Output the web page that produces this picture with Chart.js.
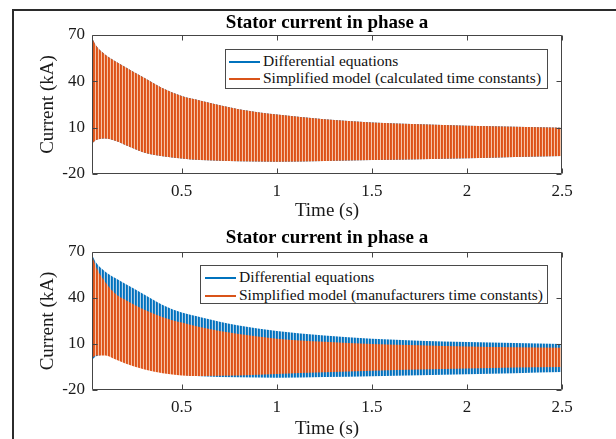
<!DOCTYPE html>
<html lang="en">
<head>
  <meta charset="UTF-8" />
  <title>Stator current in phase a</title>
  <script src="https://cdn.jsdelivr.net/npm/chart.js"></script>
  <style>
    body {
      margin: 0;
      background: #fff;
      font-family: 'Liberation Serif', 'Times New Roman', serif;
    }
    #fig {
      position: relative;
      width: 616px;
      height: 439px;
      overflow: hidden;
    }
    /* figure frame, cut off on the right and bottom like the picture */
    .frame {
      position: absolute;
      left: 12px;
      top: 9px;
      width: 640px;
      height: 460px;
      border: 2px solid #2b2b2b;
      box-sizing: border-box;
    }
    canvas {
      position: absolute;
      left: 0;
    }
    .legend {
      position: absolute;
      background: #fff;
      border: 1px solid #4a4a4a;
      box-sizing: border-box;
      font-size: 15.5px;
      color: #111;
    }
    .legend .row {
      position: absolute;
      left: 3px;
      height: 18px;
      line-height: 18px;
      white-space: nowrap;
    }
    .legend .swatch {
      display: inline-block;
      width: 31px;
      height: 2px;
      vertical-align: middle;
      margin-right: 3px;
    }
  </style>
</head>
<body>
<div id="fig">
  <div class="frame"></div>
  <canvas id="c1" width="616" height="226" style="top:0"></canvas>
  <canvas id="c2" width="616" height="213" style="top:226px"></canvas>

  <div class="legend" style="left:225px; top:49px; width:323px; height:40px;">
    <div class="row" style="top:2px;"><span class="swatch" style="background:#0072BD"></span>Differential equations</div>
    <div class="row" style="top:19px;"><span class="swatch" style="background:#D95319"></span>Simplified model (calculated time constants)</div>
  </div>
  <div class="legend" style="left:200px; top:265px; width:348px; height:39px;">
    <div class="row" style="top:2px; left:4px;"><span class="swatch" style="background:#0072BD"></span>Differential equations</div>
    <div class="row" style="top:20px; left:4px;"><span class="swatch" style="background:#D95319"></span>Simplified model (manufacturers time constants)</div>
  </div>
</div>

<script>
  // envelope of the oscillating current (peaks / troughs)
  const times = [0.03, 0.05, 0.1, 0.15, 0.2, 0.3, 0.4, 0.5, 0.6, 0.8, 1.0, 1.25, 1.5, 1.75, 2.0, 2.25, 2.5];

  const diffUpper = [67.5, 63, 57, 53, 49.5, 42.5, 35.5, 30.5, 27.5, 22, 18.5, 15.5, 13.4, 12.2, 11.3, 10.6, 10];
  const diffLower = [0, 2, 3, 1.5, -1, -6, -8.5, -10, -11, -11.7, -12, -11.6, -11, -10.4, -9.8, -9, -8.3];

  const calcUpper = [67.5, 63, 57, 53, 49.5, 42.5, 35.5, 30.5, 27.5, 22, 18.5, 15.5, 13.4, 12.2, 11.3, 10.6, 10];
  const calcLower = [0, 2, 3, 1.5, -1, -6, -8.5, -10, -11, -11.7, -12, -11.6, -11, -10.4, -9.8, -9, -8.3];

  const manufUpper = [67, 60, 50, 43, 39, 32.5, 27.5, 24, 21, 16.5, 13.5, 11.5, 10, 9.2, 8.4, 7.9, 7.5];
  const manufLower = [1, 2.5, 2.5, 0, -2.5, -6.5, -9, -10.5, -10.8, -10.5, -9.6, -8.5, -7.5, -6.7, -6, -5.4, -5];

  const xTicks = [0.5, 1, 1.5, 2, 2.5];
  const yTicks = [-20, 10, 40, 70];
  const xMin = 0.028, xMax = 2.5;
  const yMin = -20, yMax = 70;

  const FONT = "'Liberation Serif', 'Times New Roman', serif";
  const BLUE = ['#0072BD', '#1F7FC4', '#B5D4EC'];
  const ORANGE = ['#D95319', '#E35A22', '#F6C3A6'];

  // thin vertical stripes stand in for the dense 60 Hz zigzag
  function stripes(ctx, cols) {
    const tile = document.createElement('canvas');
    tile.width = cols.length;
    tile.height = 1;
    const g = tile.getContext('2d');
    cols.forEach((c, i) => { g.fillStyle = c; g.fillRect(i, 0, 1, 1); });
    return ctx.createPattern(tile, 'repeat');
  }

  function band(upper, lower, label, pattern) {
    return [
      {
        label: label,
        data: times.map((t, i) => ({ x: t, y: upper[i] })),
        fill: '+1',
        backgroundColor: pattern,
        borderColor: 'rgba(0,0,0,0)',
        borderWidth: 1,
        pointRadius: 0,
        cubicInterpolationMode: 'monotone'
      },
      {
        label: label + ' (lower)',
        data: times.map((t, i) => ({ x: t, y: lower[i] })),
        fill: false,
        borderColor: 'rgba(0,0,0,0)',
        borderWidth: 1,
        pointRadius: 0,
        cubicInterpolationMode: 'monotone'
      }
    ];
  }

  // MATLAB style box with inward ticks on all four sides
  const boxPlugin = {
    id: 'matlabBox',
    afterDatasetsDraw(chart) {
      const { ctx, chartArea: a, scales: { x, y } } = chart;
      const L = Math.round(a.left) + 0.5, R = Math.round(a.right) - 0.5;
      const T = Math.round(a.top) + 0.5, B = Math.round(a.bottom) - 0.5;
      ctx.save();
      ctx.strokeStyle = '#454545';
      ctx.lineWidth = 1;
      ctx.beginPath();
      ctx.rect(L, T, R - L, B - T);
      x.ticks.forEach(t => {
        const px = Math.round(x.getPixelForValue(t.value)) + 0.5;
        ctx.moveTo(px, B); ctx.lineTo(px, B - 5);
        ctx.moveTo(px, T); ctx.lineTo(px, T + 5);
      });
      y.ticks.forEach(t => {
        const py = Math.round(y.getPixelForValue(t.value)) + 0.5;
        ctx.moveTo(L, py); ctx.lineTo(L + 5, py);
        ctx.moveTo(R, py); ctx.lineTo(R - 5, py);
      });
      ctx.stroke();
      ctx.restore();
    }
  };

  function makeChart(id, datasets, t) {
    return new Chart(document.getElementById(id), {
      type: 'line',
      data: { datasets: datasets },
      options: {
        responsive: false,
        animation: false,
        events: [],
        layout: { padding: { left: 0, right: 54, top: 0, bottom: 0 } },
        plugins: {
          legend: { display: false },
          tooltip: { enabled: false },
          title: {
            display: true,
            text: 'Stator current in phase a',
            fullSize: false,
            color: '#000',
            font: { family: FONT, size: 19, weight: 'bold', lineHeight: 1.2 },
            padding: { top: t.titleTop, bottom: t.titleBottom }
          }
        },
        scales: {
          x: {
            type: 'linear',
            min: xMin,
            max: xMax,
            afterBuildTicks: s => { s.ticks = xTicks.map(v => ({ value: v })); },
            afterFit: s => { s.height = t.xHeight; },
            grid: { display: false, drawTicks: false },
            border: { display: false },
            ticks: {
              padding: 7,
              autoSkip: false,
              maxRotation: 0,
              color: '#1a1a1a',
              font: { family: FONT, size: 17 },
              callback: v => String(v)
            },
            title: {
              display: true,
              text: 'Time (s)',
              color: '#1a1a1a',
              font: { family: FONT, size: 19, lineHeight: 1 },
              padding: { top: 0, bottom: t.xTitleBottom }
            }
          },
          y: {
            min: yMin,
            max: yMax,
            afterBuildTicks: s => { s.ticks = yTicks.map(v => ({ value: v })); },
            afterFit: s => { s.width = 92; },
            grid: { display: false, drawTicks: false },
            border: { display: false },
            ticks: {
              padding: 7,
              color: '#1a1a1a',
              font: { family: FONT, size: 17 },
              callback: v => String(v)
            },
            title: {
              display: true,
              text: 'Current (kA)',
              color: '#1a1a1a',
              font: { family: FONT, size: 19, lineHeight: 1.2 },
              padding: { top: 36.6, bottom: 0 }
            }
          }
        }
      },
      plugins: [boxPlugin]
    });
  }

  const ctx1 = document.getElementById('c1').getContext('2d');
  const ctx2 = document.getElementById('c2').getContext('2d');

  makeChart('c1', [
    ...band(calcUpper, calcLower, 'Simplified model (calculated time constants)', stripes(ctx1, ORANGE)),
    ...band(diffUpper, diffLower, 'Differential equations', stripes(ctx1, BLUE))
  ], { titleTop: 11.6, titleBottom: 0.6, xHeight: 52, xTitleBottom: 5.5 });

  makeChart('c2', [
    ...band(manufUpper, manufLower, 'Simplified model (manufacturers time constants)', stripes(ctx2, ORANGE)),
    ...band(diffUpper, diffLower, 'Differential equations', stripes(ctx2, BLUE))
  ], { titleTop: 0.9, titleBottom: 2.3, xHeight: 49, xTitleBottom: 0.5 });
</script>
</body>
</html>
